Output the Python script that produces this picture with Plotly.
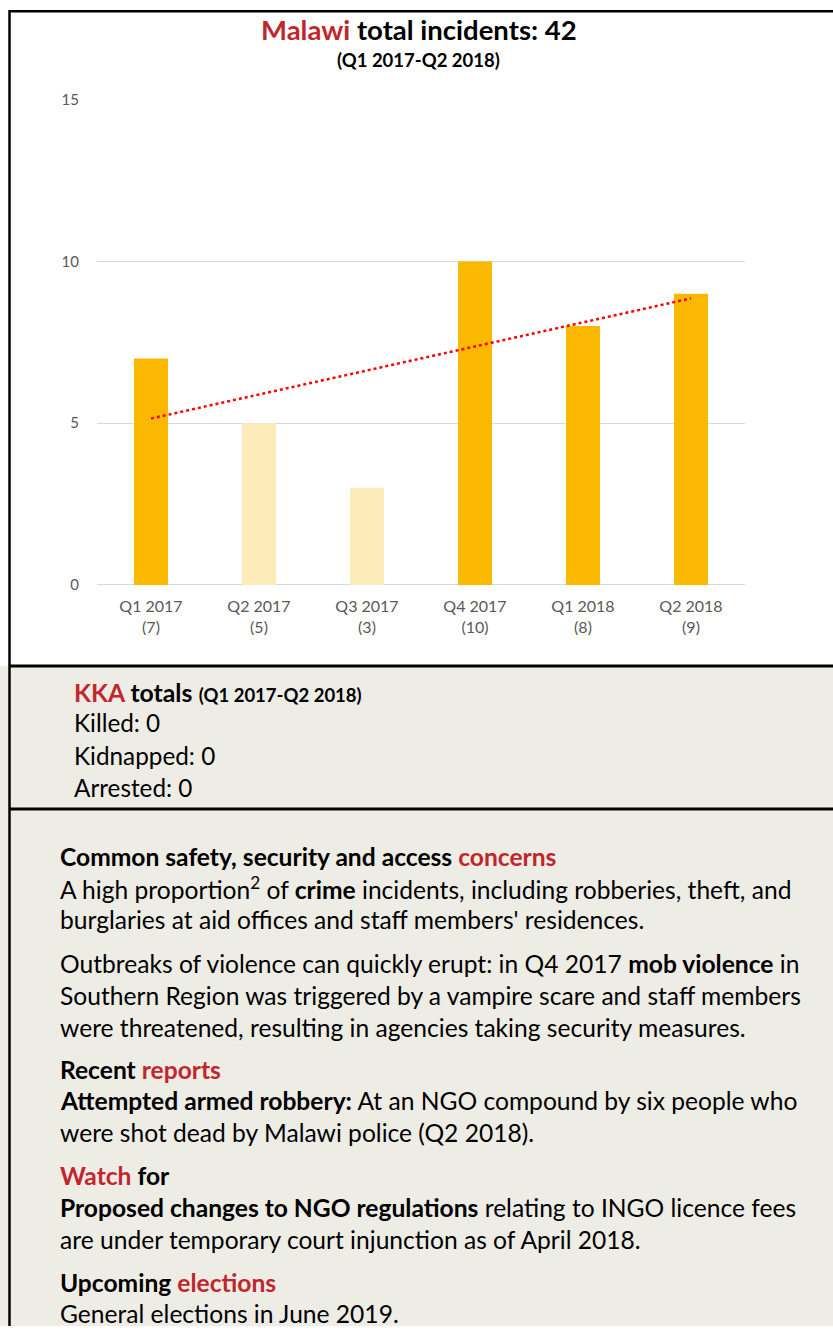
import numpy as np
import plotly.graph_objects as go

# ---- data ----
quarters = ["Q1 2017", "Q2 2017", "Q3 2017", "Q4 2017", "Q1 2018", "Q2 2018"]
incidents = [7, 5, 3, 10, 8, 9]
y_ticks = [0, 5, 10, 15]
total = sum(incidents)
kka_labels = ["Killed", "Kidnapped", "Arrested"]
kka_values = [0, 0, 0]

# ---- style ----
W, H = 833, 1334
FONT = "Lato"
RED = "#C0272D"
GOLD = "#FAB800"
PALE = "#FEEBBA"
bar_colors = [GOLD, PALE, PALE, GOLD, GOLD, GOLD]
BG = "#EDECE5"

# observed photo mapping: y_photo = Y0 + YS * y_page
Y0, YS = 9.4, 0.986


def px_x(x):
    return x / W


def px_y(y):
    y_page = (y - Y0) / YS
    return 1 - y_page / H


xs = list(range(len(quarters)))
slope, intercept = np.polyfit(np.array(xs) + 1, incidents, 1)
trend_x = [xs[0], xs[-1]]
trend_y = [slope * (x + 1) + intercept for x in trend_x]

fig = go.Figure()
fig.add_trace(go.Bar(x=xs, y=incidents, marker=dict(color=bar_colors, line=dict(width=0)),
                     width=0.315, hoverinfo="skip"))
fig.add_trace(go.Scatter(x=trend_x, y=trend_y, mode="lines",
                         line=dict(color="#FF0000", width=2.5, dash="dot"), hoverinfo="skip"))

ticktext = [f"{q}<br>({v})" for q, v in zip(quarters, incidents)]

fig.update_layout(
    width=W, height=H,
    margin=dict(l=0, r=0, t=0, b=0),
    paper_bgcolor="white", plot_bgcolor="white",
    showlegend=False,
    font=dict(family=FONT, color="#000000"),
    xaxis=dict(domain=[px_x(97), px_x(745)], range=[-0.5, 5.5], tickvals=xs, ticktext=ticktext,
               showgrid=False, zeroline=False, showline=False, ticks="",
               ticklabelstandoff=10,
               tickfont=dict(size=16, color="#595959", family=FONT)),
    yaxis=dict(domain=[px_y(584), px_y(99)], range=[0, 15], tickvals=y_ticks,
               showgrid=True, gridcolor="#D9D9D9", gridwidth=1, zeroline=True,
               zerolinecolor="#D9D9D9", zerolinewidth=1, showline=False, ticks="",
               ticklabelstandoff=17,
               tickfont=dict(size=15, color="#595959", family=FONT)),
)

shapes = []
# backgrounds
shapes.append(dict(type="rect", xref="paper", yref="paper", x0=0, x1=1, y0=px_y(808), y1=px_y(665),
                   fillcolor=BG, line=dict(width=0), layer="below"))
shapes.append(dict(type="rect", xref="paper", yref="paper", x0=0, x1=1, y0=0, y1=px_y(808),
                   fillcolor=BG, line=dict(width=0), layer="below"))
# borders
shapes.append(dict(type="line", xref="paper", yref="paper", x0=px_x(9), x1=1, y0=1 - 1.2 / H, y1=1 - 1.2 / H,
                   line=dict(color="#000000", width=2.5)))
for y in [665, 808]:
    shapes.append(dict(type="line", xref="paper", yref="paper", x0=px_x(9), x1=1, y0=px_y(y), y1=px_y(y),
                       line=dict(color="#000000", width=3)))
shapes.append(dict(type="line", xref="paper", yref="paper", x0=px_x(9.5), x1=px_x(9.5), y0=0, y1=1,
                   line=dict(color="#000000", width=2.5)))
fig.update_layout(shapes=shapes)

ann = []


def text(x, y, s, size=24.8, anchor="left"):
    ann.append(dict(xref="paper", yref="paper", x=px_x(x), y=px_y(y), text=s, showarrow=False,
                    xanchor=anchor, yanchor="middle", font=dict(family=FONT, size=size, color="#000000")))


def red(s):
    return f"<span style='color:{RED}'>{s}</span>"


# titles
text(419, 29, f"<b>{red('Malawi')} total incidents: {total}</b>", size=27.5, anchor="center")
text(418, 59, "<b>(Q1 2017-Q2 2018)</b>", size=18.5, anchor="center")

# KKA
text(72, 692, f"<b>{red('KKA')} totals</b> <b><span style='font-size:18.5px'>(Q1 2017-Q2 2018)</span></b>",
     size=24.8)
for i, (lab, val) in enumerate(zip(kka_labels, kka_values)):
    text(72, 722 + i * 32.5, f"{lab}: {val}", size=24.3)

lines = [
    (855, f"<b>Common safety, security and access {red('concerns')}</b>"),
    (887, "A high proportion<sup>2</sup> of <b>crime</b> incidents, including robberies, theft, and"),
    (918, "burglaries at aid offices and staff members' residences."),
    (962, "Outbreaks of violence can quickly erupt: in Q4 2017 <b>mob violence</b> in"),
    (994, "Southern Region was triggered by a vampire scare and staff members"),
    (1026, "were threatened, resulting in agencies taking security measures."),
    (1068, f"<b>Recent {red('reports')}</b>"),
    (1099, "<b>Attempted armed robbery:</b> At an NGO compound by six people who"),
    (1131, "were shot dead by Malawi police (Q2 2018)."),
    (1174, f"<b>{red('Watch')} for</b>"),
    (1206, "<b>Proposed changes to NGO regulations</b> relating to INGO licence fees"),
    (1238, "are under temporary court injunction as of April 2018."),
    (1281, f"<b>Upcoming {red('elections')}</b>"),
    (1312, "General elections in June 2019."),
]
for y, s in lines:
    text(58, y, s, size=24.6)

fig.update_layout(annotations=ann)
css_fix = ("document.documentElement.style.margin='0';document.documentElement.style.padding='0';"
           "document.body.style.margin='0';document.body.style.padding='0';")
fig.write_html("out.html", config={"displayModeBar": False}, post_script=css_fix)
